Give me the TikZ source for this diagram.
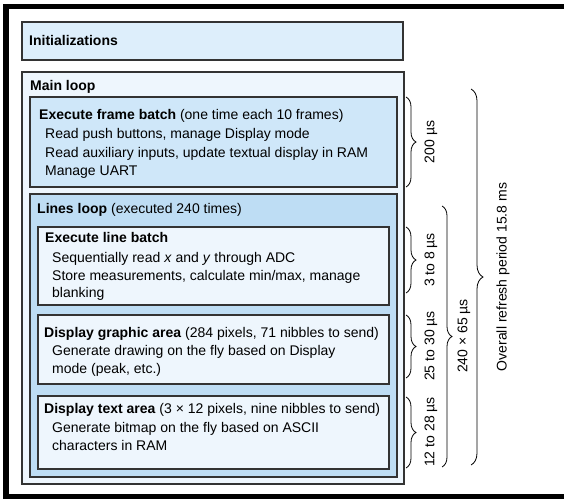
\documentclass[tikz,border=0pt]{standalone}
\usepackage{fontspec}
\setmainfont{Liberation Sans}
\usetikzlibrary{decorations.pathreplacing}
\usetikzlibrary{positioning,fit}
\definecolor{edgegray}{HTML}{333333}
\definecolor{initblue}{HTML}{DDEEFB}
\definecolor{paleblue}{HTML}{EEF6FD}
\definecolor{midblue}{HTML}{CFE7F9}
\definecolor{deepblue}{HTML}{BEDDF4}
\tikzset{
	boxnode/.style={rectangle, draw=edgegray, line width=1.1pt, inner sep=0pt},
	txt/.style={anchor=base west, inner sep=0pt, font=\fontsize{14}{16}\selectfont},
	brc/.style={decorate, decoration={brace, amplitude=10pt}, line width=0.8pt},
	brclabel/.style={rotate=90, inner sep=0pt, font=\fontsize{14}{16}\selectfont}
}

\begin{document}
\begin{tikzpicture}[x=1pt, y=-1pt]
		\useasboundingbox (0,0) rectangle (564,498);
		\draw[line width=5.5pt] (570,6.5) -- (6,6.5) -- (6,496.5) -- (570,496.5);

		%Boxes
		\node[boxnode, fill=initblue, fit={(22,22) (403,60)}] (init) {};
		\node[boxnode, fill=paleblue, fit={(22,72) (404,484)}] (main) {};
		\node[boxnode, fill=midblue, fit={(30,97) (397,187)}] (frame) {};
		\node[boxnode, fill=deepblue, fit={(30,194) (397,477)}] (lines) {};
		\node[boxnode, fill=paleblue, fit={(38,227) (389,305)}] (linebatch) {};
		\node[boxnode, fill=paleblue, fit={(38,315) (389,384)}] (graphic) {};
		\node[boxnode, fill=paleblue, fit={(38,396) (389,469)}] (textarea) {};

		%Texts
		\node[txt] at (29,45) (initlbl) {\textbf{Initializations}};
		\node[txt] at (30,90) (mainlbl) {\textbf{Main loop}};
		\node[txt] at (39,119) (framelbl) {\textbf{Execute frame batch} (one time each 10 frames)};
		\node[txt] at (45,138) (frame1) {Read push buttons, manage Display mode};
		\node[txt] at (45,157) (frame2) {Read auxiliary inputs, update textual display in RAM};
		\node[txt] at (45,175) (frame3) {Manage UART};
		\node[txt] at (37,213) (lineslbl) {\textbf{Lines loop} (executed 240 times)};
		\node[txt] at (45,242) (batchlbl) {\textbf{Execute line batch}};
		\node[txt] at (52,262) (batch1) {Sequentially read \textit{x} and \textit{y} through ADC};
		\node[txt] at (52,280) (batch2) {Store measurements, calculate min/max, manage};
		\node[txt] at (52,297) (batch3) {blanking};
		\node[txt] at (44,337) (graphlbl) {\textbf{Display graphic area} (284 pixels, 71 nibbles to send)};
		\node[txt] at (52,355) (graph1) {Generate drawing on the fly based on Display};
		\node[txt] at (52,373) (graph2) {mode (peak, etc.)};
		\node[txt] at (44,413) (textlbl) {\textbf{Display text area} (3 × 12 pixels, nine nibbles to send)};
		\node[txt] at (52,432) (text1) {Generate bitmap on the fly based on ASCII};
		\node[txt] at (52,450) (text2) {characters in RAM};

		%Braces
		\coordinate (t200) at (406,97);   \coordinate (e200) at (406,187);
		\coordinate (t38) at (406,227);   \coordinate (e38) at (406,293);
		\coordinate (t2530) at (406,315); \coordinate (e2530) at (406,378);
		\coordinate (t1228) at (406,397); \coordinate (e1228) at (406,468);
		\coordinate (t240) at (442,206);  \coordinate (e240) at (442,467);
		\coordinate (tall) at (471,89);   \coordinate (eall) at (471,465);
		\draw[brc] (t200) -- (e200);
		\draw[brc] (t38) -- (e38);
		\draw[brc] (t2530) -- (e2530);
		\draw[brc] (t1228) -- (e1228);
		\draw[brc] (t240) -- (e240);
		\draw[brc, decoration={amplitude=12pt}] (tall) -- (eall);
		\node[brclabel] at (431,142) (l200) {200 µs};
		\node[brclabel] at (431,260) (l38) {3 to 8 µs};
		\node[brclabel] at (431,346) (l2530) {25 to 30 µs};
		\node[brclabel] at (431,432) (l1228) {12 to 28 µs};
		\node[brclabel] at (464,336) (l240) {240 × 65 µs};
		\node[brclabel] at (503,277) (lall) {Overall refresh period 15.8 ms};
	\end{tikzpicture}
\end{document}
